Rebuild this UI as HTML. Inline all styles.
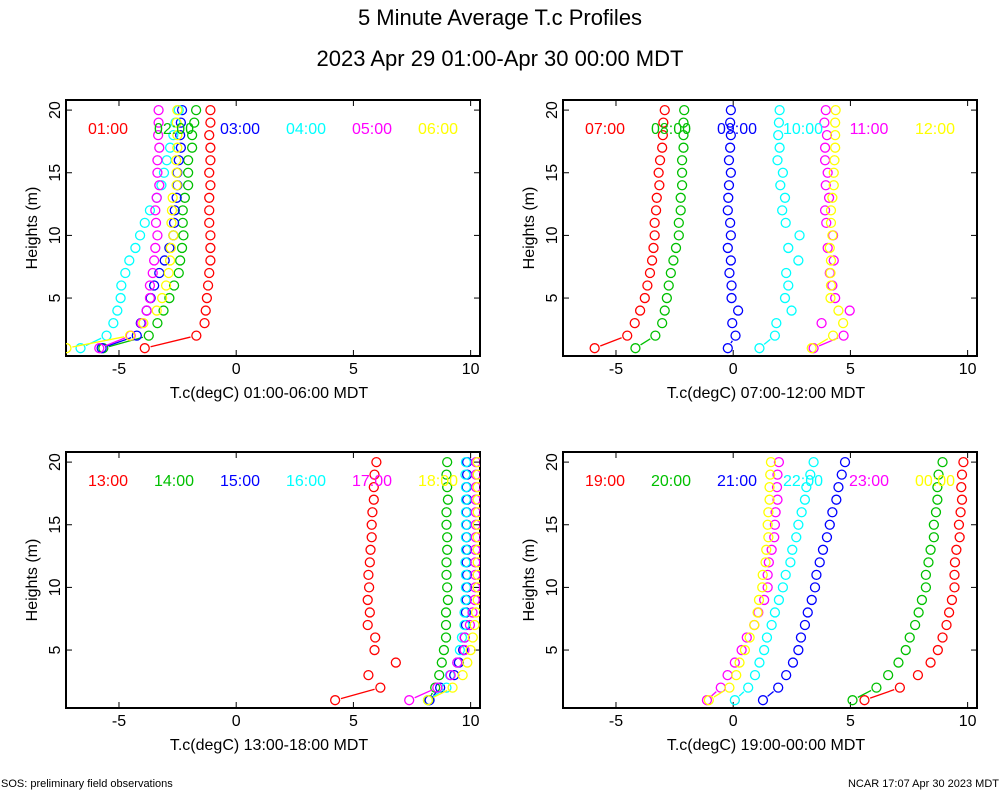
<!DOCTYPE html>
<html><head><meta charset="utf-8"><style>
body{margin:0;background:#fff;}
svg{display:block;font-family:"Liberation Sans",sans-serif;}
</style></head><body>
<svg id="chart" width="1000" height="800" viewBox="0 0 1000 800">
<rect width="1000" height="800" fill="#fff"/>
<text x="500" y="25" font-size="22" text-anchor="middle">5 Minute Average T.c Profiles</text>
<text x="500" y="66" font-size="22" text-anchor="middle">2023 Apr 29 01:00-Apr 30 00:00 MDT</text>
<text x="1" y="787" font-size="11">SOS: preliminary field observations</text>
<text x="999" y="787" font-size="11" text-anchor="end">NCAR 17:07 Apr 30 2023 MDT</text>
<g id="panels"></g>
</svg>
<script>
// heights top (20 m) to bottom (1 m)
const heights = [20,19,18,17,16,15,14,13,12,11,10,9,8,7,6,5,4,3,2,1];
const xTicks = [-5,0,5,10];
const yTicks = [5,10,15,20];
const colors = ["#ff0000","#00c000","#0000ff","#00ffff","#ff00ff","#ffff00"];
const labels1 = ["01:00","02:00","03:00","04:00","05:00","06:00"];
const labels2 = ["07:00","08:00","09:00","10:00","11:00","12:00"];
const labels3 = ["13:00","14:00","15:00","16:00","17:00","18:00"];
const labels4 = ["19:00","20:00","21:00","22:00","23:00","00:00"];
const p1s1=[-1.1,-1.1,-1.15,-1.1,-1.1,-1.15,-1.1,-1.15,-1.15,-1.15,-1.1,-1.1,-1.1,-1.15,-1.2,-1.25,-1.3,-1.35,-1.7,-3.9];
const p1s2=[-1.71,-1.79,-1.88,-1.88,-2.05,-2.05,-2.05,-2.19,-2.28,-2.28,-2.25,-2.31,-2.39,-2.45,-2.65,-2.85,-3.1,-3.36,-3.73,-5.67];
const p1s3=[-2.31,-2.36,-2.39,-2.36,-2.45,-2.51,-2.51,-2.54,-2.62,-2.65,-2.68,-2.85,-3.05,-3.28,-3.5,-3.65,-3.82,-4.07,-4.24,-5.74];
const p1s4=[-2.45,-2.59,-2.68,-2.82,-2.96,-3.08,-3.19,-3.39,-3.68,-3.9,-4.1,-4.3,-4.56,-4.73,-4.9,-4.93,-5.07,-5.24,-5.53,-6.64];
const p1s5=[-3.31,-3.31,-3.33,-3.28,-3.36,-3.36,-3.28,-3.39,-3.45,-3.42,-3.36,-3.45,-3.5,-3.56,-3.68,-3.68,-3.82,-4.04,-4.5,-5.84];
const p1s6=[-2.51,-2.54,-2.51,-2.51,-2.56,-2.54,-2.54,-2.71,-2.74,-2.76,-2.68,-2.79,-2.82,-2.88,-2.99,-3.16,-3.39,-3.96,-4.53,-7.24];
const p2s1=[-2.92,-2.98,-3.0,-3.03,-3.12,-3.18,-3.15,-3.26,-3.29,-3.35,-3.35,-3.4,-3.46,-3.55,-3.66,-3.77,-3.97,-4.2,-4.52,-5.91];
const p2s2=[-2.09,-2.12,-2.12,-2.12,-2.18,-2.18,-2.18,-2.24,-2.24,-2.32,-2.32,-2.44,-2.55,-2.66,-2.75,-2.83,-2.92,-3.03,-3.32,-4.17];
const p2s3=[-0.1,-0.13,-0.1,-0.13,-0.18,-0.1,-0.18,-0.21,-0.23,-0.13,-0.1,-0.23,-0.1,-0.16,-0.07,-0.07,0.21,-0.04,0.1,-0.23];
const p2s4=[1.98,1.95,1.92,1.98,1.89,2.12,2.01,2.21,2.09,2.24,2.83,2.35,2.78,2.26,2.35,2.21,2.49,1.84,1.78,1.12];
const p2s5=[3.95,3.89,4.0,3.92,3.92,4.03,3.95,4.09,3.92,3.97,4.26,4.03,4.29,4.12,4.23,4.35,4.97,3.77,4.71,3.43];
const p2s6=[4.37,4.35,4.35,4.35,4.32,4.29,4.29,4.23,4.17,4.17,4.23,4.12,4.17,4.15,4.17,4.15,4.49,4.69,4.26,3.35];
const p3s1=[5.98,5.9,5.87,5.87,5.81,5.78,5.78,5.73,5.7,5.64,5.67,5.61,5.7,5.61,5.93,5.9,6.81,5.64,6.15,4.22];
const p3s2=[9.0,8.97,9.0,9.03,8.97,8.97,9.0,9.0,8.97,8.97,9.0,9.03,8.95,8.95,8.95,8.86,8.77,8.66,8.49,8.2];
const p3s3=[9.85,9.85,9.83,9.85,9.83,9.83,9.83,9.85,9.83,9.85,9.85,9.83,9.8,9.8,9.75,9.68,9.5,9.3,8.7,8.25];
const p3s4=[9.8,9.78,9.8,9.8,9.8,9.8,9.8,9.8,9.78,9.8,9.8,9.78,9.74,9.74,9.63,9.54,9.43,9.12,8.97,8.18];
const p3s5=[10.23,10.23,10.23,10.22,10.22,10.22,10.22,10.2,10.2,10.2,10.2,10.18,10.08,9.97,9.74,9.74,9.43,9.15,8.58,7.38];
const p3s6=[10.3,10.3,10.3,10.3,10.3,10.3,10.3,10.3,10.3,10.3,10.3,10.3,10.23,10.17,10.09,10.0,9.86,9.66,9.23,8.18];
const p4s1=[9.82,9.76,9.73,9.76,9.7,9.63,9.66,9.52,9.46,9.44,9.44,9.33,9.21,9.1,8.93,8.73,8.42,7.88,7.11,5.6];
const p4s2=[8.93,8.76,8.71,8.71,8.65,8.56,8.56,8.42,8.33,8.22,8.22,8.05,7.91,7.76,7.53,7.36,7.05,6.61,6.11,5.09];
const p4s3=[4.77,4.63,4.49,4.4,4.23,4.12,4.0,3.83,3.69,3.55,3.49,3.35,3.18,3.06,2.89,2.78,2.55,2.26,1.92,1.27];
const p4s4=[3.43,3.29,3.12,3.06,2.92,2.78,2.69,2.52,2.44,2.24,2.12,1.95,1.78,1.64,1.44,1.32,1.12,0.93,0.64,0.07];
const p4s5=[1.95,1.89,1.87,1.89,1.81,1.78,1.75,1.64,1.52,1.47,1.47,1.32,1.07,0.9,0.58,0.36,0.07,-0.24,-0.53,-1.12];
const p4s6=[1.61,1.58,1.55,1.55,1.5,1.47,1.5,1.41,1.38,1.26,1.24,1.1,1.04,0.9,0.7,0.5,0.27,0.13,-0.16,-1.04];

const NS="http://www.w3.org/2000/svg";
const root=document.getElementById('panels');
function mk(tag,attrs,parent){const e=document.createElementNS(NS,tag);for(const k in attrs)e.setAttribute(k,attrs[k]);(parent||root).appendChild(e);return e;}

const panels=[
 {ox:66,oy:100,series:[p1s1,p1s2,p1s3,p1s4,p1s5,p1s6],labels:labels1,xl:"T.c(degC) 01:00-06:00 MDT"},
 {ox:563,oy:100,series:[p2s1,p2s2,p2s3,p2s4,p2s5,p2s6],labels:labels2,xl:"T.c(degC) 07:00-12:00 MDT"},
 {ox:66,oy:452,series:[p3s1,p3s2,p3s3,p3s4,p3s5,p3s6],labels:labels3,xl:"T.c(degC) 13:00-18:00 MDT"},
 {ox:563,oy:452,series:[p4s1,p4s2,p4s3,p4s4,p4s5,p4s6],labels:labels4,xl:"T.c(degC) 19:00-00:00 MDT"}
];
const W=414,H=256,XMIN=-7.26,XMAX=10.4;
panels.forEach((p,pi)=>{
  const g=mk('g',{});
  
  
  const xs=v=>p.ox+(v-XMIN)/(XMAX-XMIN)*W;
  const ys=h=>p.oy+260.7-12.53*h;
  const clip='clip'+pi;
  const cp=mk('clipPath',{id:clip},g);mk('rect',{x:p.ox,y:p.oy,width:W,height:H},cp);
  xTicks.forEach(t=>{
    const x=xs(t);
    const tl=mk('line',{x1:x,x2:x,y1:p.oy+H,y2:p.oy+H-6,stroke:'#000','stroke-width':1},g);
    
    
    mk('line',{x1:x,x2:x,y1:p.oy,y2:p.oy+6,stroke:'#000','stroke-width':1},g);
    const tx=mk('text',{x:x,y:p.oy+H+18,'font-size':16,'text-anchor':'middle'},g);
    tx.textContent=t;
    
    
  });
  yTicks.forEach(t=>{
    const y=ys(t);
    mk('line',{x1:p.ox,x2:p.ox+6,y1:y,y2:y,stroke:'#000'},g);
    mk('line',{x1:p.ox+W,x2:p.ox+W-6,y1:y,y2:y,stroke:'#000'},g);
    const tx=mk('text',{x:0,y:0,'font-size':16,'text-anchor':'middle',transform:`translate(${p.ox-6},${y}) rotate(-90)`},g);
    tx.textContent=t;
    
    
  });
  const fr=mk('rect',{x:p.ox,y:p.oy,width:W,height:H,fill:'none',stroke:'#000','stroke-width':2},g);
  
  
  const xl=mk('text',{x:p.ox+W/2-4,y:p.oy+H+42,'font-size':16,'text-anchor':'middle'},g);
  xl.textContent=p.xl;
  
  
  const yl=mk('text',{x:0,y:0,'font-size':16,'text-anchor':'middle',transform:`translate(${p.ox-29},${p.oy+128}) rotate(-90)`},g);
  yl.textContent="Heights (m)";
  
  
  const dg=mk('g',{'clip-path':`url(#${clip})`},g);
  p.series.forEach((s,si)=>{
    const sg=mk('g',{},dg);
    
    
    // segment between lowest two levels
    const n=s.length;
    const x1=xs(s[n-1]),y1=ys(heights[n-1]),x2=xs(s[n-2]),y2=ys(heights[n-2]);
    const dx=x2-x1,dy=y2-y1,L=Math.hypot(dx,dy);
    if(L>12){const r=6/L;
      const ln=mk('line',{x1:x1+dx*r,y1:y1+dy*r,x2:x2-dx*r,y2:y2-dy*r,stroke:colors[si],'stroke-width':1.3},sg);
      
      }
    s.forEach((v,i)=>{
      const c=mk('circle',{cx:xs(v),cy:ys(heights[i]),r:4.5,fill:'none',stroke:colors[si],'stroke-width':1.3},sg);
      
      
    });
  });
  p.labels.forEach((l,li)=>{
    const t=mk('text',{x:p.ox+42+li*66,y:p.oy+34,'font-size':16,'text-anchor':'middle',fill:colors[li]},g);
    t.textContent=l;
    
    
  });
});
</script>
</body></html>
